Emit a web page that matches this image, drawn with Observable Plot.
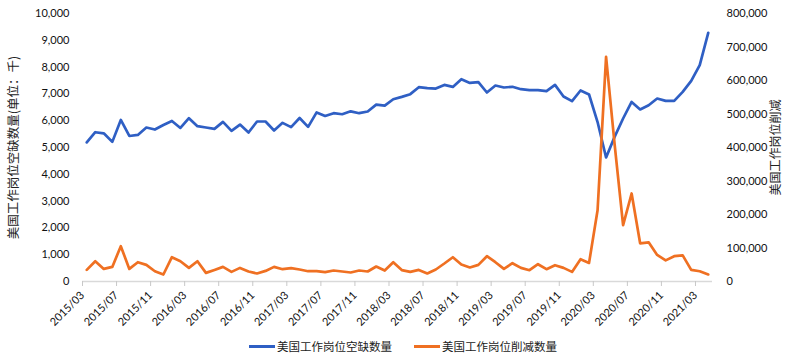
<!DOCTYPE html>
<html>
<head>
<meta charset="utf-8">
<script src="https://cdn.jsdelivr.net/npm/d3@7"></script>
<script src="https://cdn.jsdelivr.net/npm/@observablehq/plot@0.6"></script>
<style>
  html, body { margin: 0; padding: 0; background: #fff; }
  body { width: 800px; height: 364px; overflow: hidden; font-family: Lato, "Noto Sans CJK SC", sans-serif; }
  #chart svg { display: block; }
  .legend { height: 32px; display: flex; align-items: center; padding-left: 249px; font-family: "Noto Sans CJK SC", sans-serif; font-size: 11.5px; color: #222; }
  .legend .item { display: flex; align-items: center; }
  .legend .sw { width: 26px; height: 3px; margin-right: 2px; }
  .legend .item + .item { margin-left: 22px; }
</style>
</head>
<body>
<div id="chart"></div>
<div class="legend">
  <div class="item"><span class="sw" style="background:#2F5FC4"></span><span>美国工作岗位空缺数量</span></div>
  <div class="item"><span class="sw" style="background:#EF7022"></span><span>美国工作岗位削减数量</span></div>
</div>
<script>
// Monthly categories, 2015/03 – 2021/04
const categories = [
  "2015/03","2015/04","2015/05","2015/06","2015/07","2015/08","2015/09","2015/10","2015/11","2015/12",
  "2016/01","2016/02","2016/03","2016/04","2016/05","2016/06","2016/07","2016/08","2016/09","2016/10","2016/11","2016/12",
  "2017/01","2017/02","2017/03","2017/04","2017/05","2017/06","2017/07","2017/08","2017/09","2017/10","2017/11","2017/12",
  "2018/01","2018/02","2018/03","2018/04","2018/05","2018/06","2018/07","2018/08","2018/09","2018/10","2018/11","2018/12",
  "2019/01","2019/02","2019/03","2019/04","2019/05","2019/06","2019/07","2019/08","2019/09","2019/10","2019/11","2019/12",
  "2020/01","2020/02","2020/03","2020/04","2020/05","2020/06","2020/07","2020/08","2020/09","2020/10","2020/11","2020/12",
  "2021/01","2021/02","2021/03","2021/04"
];

// 美国工作岗位空缺数量 (千) — left axis
const openings = [
  5190,5570,5530,5210,6030,5430,5470,5745,5670,5840,
  5990,5730,6095,5795,5745,5695,5955,5620,5855,5560,5970,5970,
  5635,5920,5760,6100,5770,6310,6175,6280,6240,6350,6280,6345,
  6600,6560,6800,6890,6990,7250,7213,7200,7336,7261,7549,7410,
  7437,7052,7313,7239,7265,7175,7138,7138,7101,7336,6903,6728,
  7127,6978,5950,4627,5396,6082,6702,6418,6578,6828,6739,6739,
  7075,7485,8071,9276
];

// 美国工作岗位削减数量 — right axis
const cuts = [
  34600,60600,37600,43600,105400,37600,57600,49600,30700,20900,
  72500,60600,40600,60600,25700,34600,43600,28700,40600,29900,23900,31600,
  43600,36700,39700,35800,30700,30700,27800,32800,29900,26900,32800,29900,
  44800,32800,57600,34000,28700,34600,23900,35800,53700,72500,50700,41800,
  49600,75500,57600,37600,54600,40600,33700,51600,36700,48700,40600,28700,
  66600,55500,212800,670400,410000,168100,262700,114000,117000,79400,63000,75500,
  78000,34500,30700,21000
];

const xTickLabels = [
  "2015/03","2015/07","2015/11","2016/03","2016/07","2016/11","2017/03","2017/07","2017/11",
  "2018/03","2018/07","2018/11","2019/03","2019/07","2019/11","2020/03","2020/07","2020/11","2021/03"
];
const leftTicks = [0,1000,2000,3000,4000,5000,6000,7000,8000,9000,10000];
const rightTicks = [0,100000,200000,300000,400000,500000,600000,700000,800000];
const leftMax = 10000, rightMax = 800000;
const ratio = rightMax / leftMax;

const rows = categories.map((m, i) => ({i, month: m, openings: openings[i], cuts: cuts[i]}));
const tickPos = xTickLabels.map(l => categories.indexOf(l) - 0.5);
const fmt = d3.format(",");

const chart = Plot.plot({
  width: 800,
  height: 330,
  marginLeft: 82,
  marginRight: 88,
  marginTop: 13,
  marginBottom: 49,
  style: {fontFamily: 'Lato, "Noto Sans CJK SC", sans-serif', fontSize: "11px", color: "#111", background: "#fff"},
  x: {type: "linear", domain: [-0.5, categories.length - 0.5]},
  y: {domain: [0, leftMax]},
  marks: [
    Plot.ruleY([0], {stroke: "#d9d9d9", strokeWidth: 1.5}),
    Plot.axisX({ticks: tickPos, tickFormat: d => categories[Math.round(d + 0.5)], tickRotate: -45,
      tickSize: 5, tickPadding: 7, stroke: "#c8c8c8", fill: "#111", fontSize: 11, label: null}),
    Plot.axisY({anchor: "left", ticks: leftTicks, tickFormat: fmt, tickSize: 0, tickPadding: 13, fontSize: 11, label: null, fill: "#111"}),
    Plot.axisY({anchor: "right", ticks: rightTicks.map(v => v / ratio), tickFormat: d => fmt(Math.round(d * ratio)),
      tickSize: 0, tickPadding: 14, fontSize: 11, label: null, fill: "#111"}),
    Plot.text(["美国工作岗位空缺数量(单位：千)"], {frameAnchor: "left", dx: -69, rotate: -90, textAnchor: "middle",
      fontSize: 12.5, fill: "#222", fontFamily: '"Noto Sans CJK SC", sans-serif'}),
    Plot.text(["美国工作岗位削减"], {frameAnchor: "right", dx: 64, rotate: -90, textAnchor: "middle",
      fontSize: 12, fill: "#222", fontFamily: '"Noto Sans CJK SC", sans-serif'}),
    Plot.line(rows, {x: "i", y: "openings", stroke: "#2F5FC4", strokeWidth: 2.7, strokeLinejoin: "round"}),
    Plot.line(rows, {x: "i", y: d => d.cuts / ratio, stroke: "#EF7022", strokeWidth: 2.7, strokeLinejoin: "round"})
  ]
});
document.getElementById("chart").appendChild(chart);
</script>
</body>
</html>
